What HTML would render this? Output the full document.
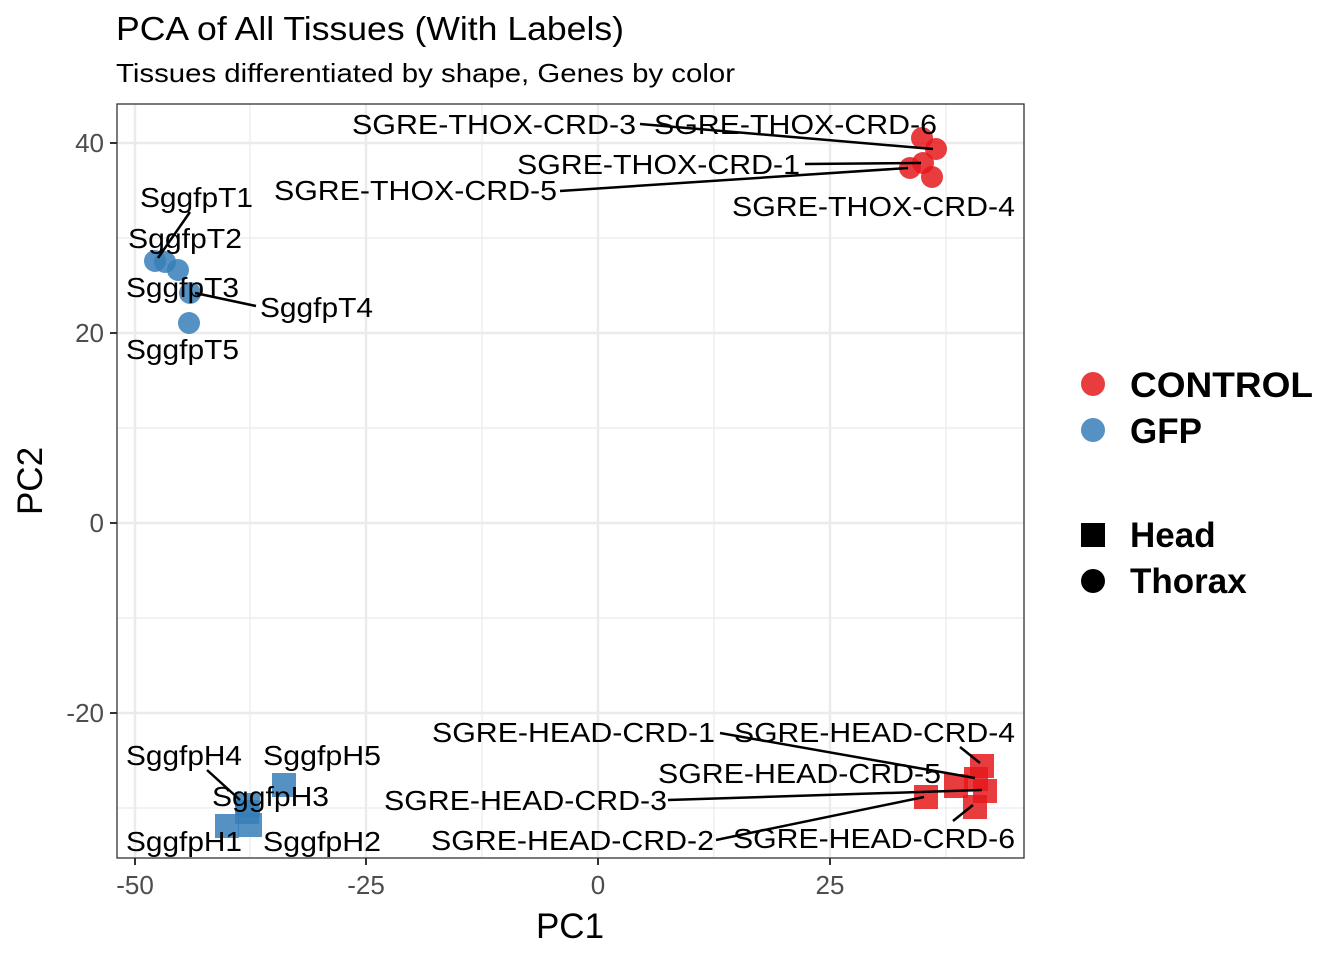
<!DOCTYPE html>
<html><head><style>body{margin:0;background:#fff}</style></head><body>
<svg width="1344" height="960" xmlns="http://www.w3.org/2000/svg" font-family="Liberation Sans, Arial, sans-serif">
<rect width="1344" height="960" fill="#fff"/>
<text x="116" y="40" font-size="33" textLength="508" lengthAdjust="spacingAndGlyphs">PCA of All Tissues (With Labels)</text>
<text x="116" y="82" font-size="26" textLength="619" lengthAdjust="spacingAndGlyphs">Tissues differentiated by shape, Genes by color</text>
<g stroke="#ebebeb" stroke-width="1.2">
<line x1="250" y1="104" x2="250" y2="858"/><line x1="482" y1="104" x2="482" y2="858"/><line x1="714" y1="104" x2="714" y2="858"/><line x1="946" y1="104" x2="946" y2="858"/>
<line x1="117" y1="238" x2="1024" y2="238"/><line x1="117" y1="428" x2="1024" y2="428"/><line x1="117" y1="618" x2="1024" y2="618"/><line x1="117" y1="808" x2="1024" y2="808"/>
</g>
<g stroke="#ebebeb" stroke-width="2.5">
<line x1="135" y1="104" x2="135" y2="858"/><line x1="366" y1="104" x2="366" y2="858"/><line x1="598" y1="104" x2="598" y2="858"/><line x1="830" y1="104" x2="830" y2="858"/>
<line x1="117" y1="143" x2="1024" y2="143"/><line x1="117" y1="333" x2="1024" y2="333"/><line x1="117" y1="523" x2="1024" y2="523"/><line x1="117" y1="713" x2="1024" y2="713"/>
</g>
<g fill="#e41a1c" fill-opacity="0.85">
<circle cx="922" cy="138" r="11"/><circle cx="936" cy="149" r="11"/><circle cx="910" cy="168" r="11"/><circle cx="923" cy="163" r="11"/><circle cx="932" cy="177" r="11"/>
<rect x="970" y="754" width="24" height="24"/><rect x="964" y="767" width="24" height="24"/><rect x="973" y="779" width="24" height="24"/><rect x="963" y="795" width="24" height="24"/><rect x="944" y="774" width="24" height="24"/><rect x="914" y="785" width="24" height="24"/>
</g>
<g fill="#377eb8" fill-opacity="0.85">
<circle cx="155" cy="261" r="11"/><circle cx="165" cy="262" r="11"/><circle cx="178" cy="270" r="11"/><circle cx="190" cy="293" r="11"/><circle cx="189" cy="323" r="11"/>
<rect x="272" y="773" width="24" height="24"/><rect x="215" y="814" width="24" height="24"/><rect x="238" y="813" width="24" height="24"/><rect x="236" y="793" width="24" height="24"/><rect x="235" y="800" width="24" height="24"/>
</g>
<g stroke="#000" stroke-width="2.5">
<line x1="640" y1="124" x2="933" y2="149"/><line x1="805" y1="164" x2="921" y2="163"/><line x1="560" y1="191" x2="908" y2="168"/>
<line x1="190" y1="212" x2="158" y2="258"/><line x1="195" y1="293" x2="256" y2="306"/>
<line x1="720" y1="733" x2="975" y2="778"/><line x1="960" y1="747" x2="980" y2="763"/><line x1="668" y1="800" x2="982" y2="790"/><line x1="716" y1="840" x2="924" y2="797"/><line x1="953" y1="821" x2="973" y2="805"/>
<line x1="207" y1="770" x2="240" y2="800"/>
</g>
<g font-size="28" fill="#000" lengthAdjust="spacingAndGlyphs">
<text x="352" y="134" textLength="284" lengthAdjust="spacingAndGlyphs">SGRE-THOX-CRD-3</text><text x="654" y="134" textLength="283" lengthAdjust="spacingAndGlyphs">SGRE-THOX-CRD-6</text>
<text x="517" y="174" textLength="283" lengthAdjust="spacingAndGlyphs">SGRE-THOX-CRD-1</text><text x="274" y="200" textLength="283" lengthAdjust="spacingAndGlyphs">SGRE-THOX-CRD-5</text><text x="732" y="216" textLength="283" lengthAdjust="spacingAndGlyphs">SGRE-THOX-CRD-4</text>
<text x="140" y="207" textLength="113" lengthAdjust="spacingAndGlyphs">SggfpT1</text><text x="128" y="248" textLength="114" lengthAdjust="spacingAndGlyphs">SggfpT2</text><text x="126" y="297" textLength="113" lengthAdjust="spacingAndGlyphs">SggfpT3</text><text x="260" y="317" textLength="113" lengthAdjust="spacingAndGlyphs">SggfpT4</text><text x="126" y="359" textLength="113" lengthAdjust="spacingAndGlyphs">SggfpT5</text>
<text x="432" y="742" textLength="283" lengthAdjust="spacingAndGlyphs">SGRE-HEAD-CRD-1</text><text x="734" y="742" textLength="281" lengthAdjust="spacingAndGlyphs">SGRE-HEAD-CRD-4</text><text x="658" y="783" textLength="283" lengthAdjust="spacingAndGlyphs">SGRE-HEAD-CRD-5</text>
<text x="384" y="810" textLength="283" lengthAdjust="spacingAndGlyphs">SGRE-HEAD-CRD-3</text><text x="431" y="850" textLength="283" lengthAdjust="spacingAndGlyphs">SGRE-HEAD-CRD-2</text><text x="733" y="848" textLength="282" lengthAdjust="spacingAndGlyphs">SGRE-HEAD-CRD-6</text>
<text x="126" y="765" textLength="116" lengthAdjust="spacingAndGlyphs">SggfpH4</text><text x="263" y="765" textLength="118" lengthAdjust="spacingAndGlyphs">SggfpH5</text><text x="212" y="806" textLength="117" lengthAdjust="spacingAndGlyphs">SggfpH3</text><text x="126" y="851" textLength="116" lengthAdjust="spacingAndGlyphs">SggfpH1</text><text x="263" y="851" textLength="118" lengthAdjust="spacingAndGlyphs">SggfpH2</text>
</g>
<rect x="117" y="104" width="907" height="754" fill="none" stroke="#333" stroke-width="1.3"/>
<g stroke="#333" stroke-width="2">
<line x1="135" y1="858" x2="135" y2="865"/><line x1="366" y1="858" x2="366" y2="865"/><line x1="598" y1="858" x2="598" y2="865"/><line x1="830" y1="858" x2="830" y2="865"/>
<line x1="110" y1="143" x2="117" y2="143"/><line x1="110" y1="333" x2="117" y2="333"/><line x1="110" y1="523" x2="117" y2="523"/><line x1="110" y1="713" x2="117" y2="713"/>
</g>
<g font-size="26" fill="#4d4d4d">
<text x="135" y="894" text-anchor="middle">-50</text><text x="366" y="894" text-anchor="middle">-25</text><text x="598" y="894" text-anchor="middle">0</text><text x="830" y="894" text-anchor="middle">25</text>
<text x="104" y="152" text-anchor="end">40</text><text x="104" y="342" text-anchor="end">20</text><text x="104" y="532" text-anchor="end">0</text><text x="104" y="722" text-anchor="end">-20</text>
</g>
<text x="570" y="938" font-size="35" text-anchor="middle">PC1</text>
<text x="42" y="481" font-size="35" text-anchor="middle" transform="rotate(-90 42 481)">PC2</text>
<circle cx="1093" cy="384" r="12" fill="#e41a1c" fill-opacity="0.85"/>
<circle cx="1093" cy="430" r="12" fill="#377eb8" fill-opacity="0.85"/>
<rect x="1081" y="523" width="24" height="24" fill="#000"/>
<circle cx="1093" cy="581" r="12" fill="#000"/>
<g font-size="35" font-weight="bold">
<text x="1130" y="397" textLength="183" lengthAdjust="spacingAndGlyphs">CONTROL</text><text x="1130" y="443">GFP</text><text x="1130" y="547">Head</text><text x="1130" y="593">Thorax</text>
</g>
</svg>
</body></html>
